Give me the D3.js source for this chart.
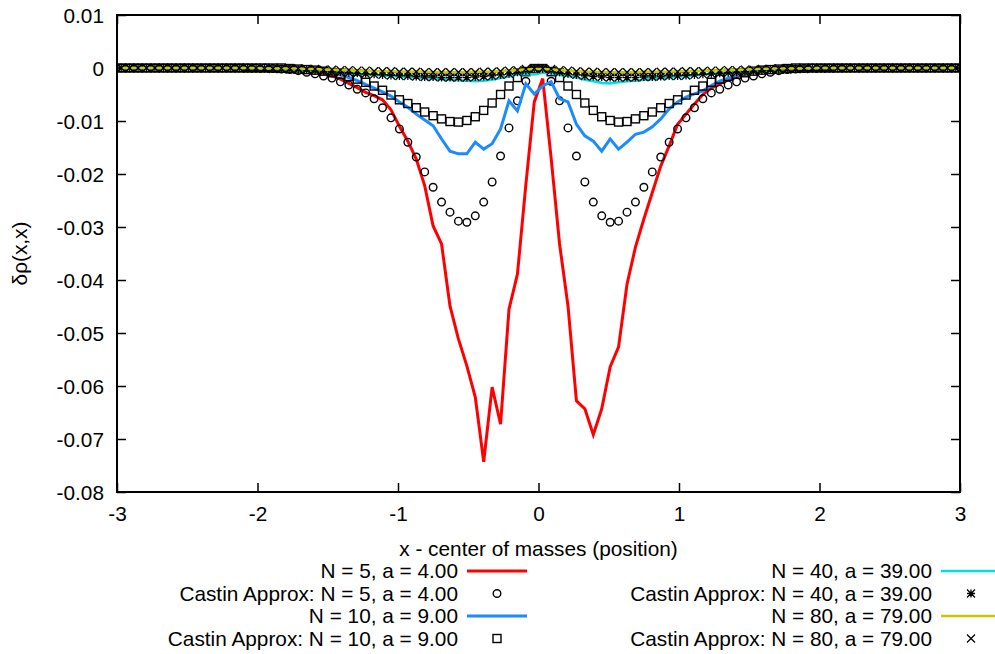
<!DOCTYPE html>
<html lang="en">
<head>
    <meta charset="UTF-8">
    <script src="https://d3js.org/d3.v7.min.js"></script>
    <title>delta rho</title>
    <style>
        body { margin: 0; background: #fff; }
        text { font-family: "Liberation Sans", Arial, sans-serif; font-size: 20.8px; fill: #000; }
    </style>
</head>
<body>
<div id="viz"></div>
<script>
    // sample grid: x = -2.97 ... 2.97, step 0.06 (100 points)
    const xStart = -2.97, xStep = 0.06, nPts = 100;

    // all values below are in units of 1e-4
    const UNIT = 1e-4;

    // N = 5, a = 4.00
    const n5 = [
        0, 0, 0, 0, 0, 0, 0, 0, 0, 0,
        0, 0, 0, 0, 0, 0, 0, 0, -1, -1,
        -2, -3, -4, -6, -10, -15, -21, -29, -37, -46,
        -52, -60, -79, -110, -138, -172, -222, -298, -332, -449,
        -511, -562, -621, -743, -602, -672, -455, -389, -220, -64,
        -20, -170, -332, -449, -628, -643, -692, -643, -564, -526,
        -408, -338, -285, -235, -185, -147, -106, -87, -68, -50,
        -38, -30, -22, -16, -12, -8, -5, -3, -2, -1,
        0, 0, 0, 0, 0, 0, 0, 0, 0, 0,
        0, 0, 0, 0, 0, 0, 0, 0, 0, 0
    ];
    const castin5 = [
        0, 0, 0, 0, 0, 0, 0, 0, 0, 0,
        0, 0, 0, 0, 0, 0, 0, 0, -1, -2,
        -3, -5, -8, -11, -15, -19, -26, -32, -40, -47,
        -58, -75, -94, -115, -140, -168, -196, -225, -253, -272,
        -289, -291, -279, -253, -215, -166, -113, -62, -25, -3,
        -3, -25, -62, -113, -166, -215, -253, -279, -291, -289,
        -272, -253, -225, -196, -168, -140, -115, -94, -75, -58,
        -47, -40, -32, -26, -19, -15, -11, -8, -5, -3,
        -2, -1, 0, 0, 0, 0, 0, 0, 0, 0,
        0, 0, 0, 0, 0, 0, 0, 0, 0, 0
    ];
    // N = 10, a = 9.00
    const n10 = [
        0, 0, 0, 0, 0, 0, 0, 0, 0, 0,
        0, 0, 0, 0, 0, 0, 0, 0, 0, 0,
        -1, -1, -2, -4, -6, -9, -13, -18, -24, -31,
        -38, -45, -53, -64, -74, -87, -98, -109, -134, -157,
        -162, -162, -140, -153, -143, -115, -62, -81, -30, -49,
        -34, -26, -58, -64, -106, -128, -138, -157, -134, -153,
        -140, -125, -121, -111, -96, -77, -64, -55, -49, -43,
        -33, -25, -19, -14, -10, -7, -5, -3, -2, -1,
        0, 0, 0, 0, 0, 0, 0, 0, 0, 0,
        0, 0, 0, 0, 0, 0, 0, 0, 0, 0
    ];
    const castin10 = [
        0, 0, 0, 0, 0, 0, 0, 0, 0, 0,
        0, 0, 0, 0, 0, 0, 0, 0, 0, 0,
        -1, -2, -3, -4, -6, -9, -12, -16, -21, -27,
        -34, -42, -51, -60, -67, -75, -83, -90, -96, -101,
        -102, -99, -92, -80, -66, -50, -34, -18, -7, -1,
        -1, -7, -18, -34, -50, -66, -80, -92, -99, -102,
        -101, -96, -90, -83, -75, -67, -60, -51, -42, -34,
        -27, -21, -16, -12, -9, -6, -4, -3, -2, -1,
        0, 0, 0, 0, 0, 0, 0, 0, 0, 0,
        0, 0, 0, 0, 0, 0, 0, 0, 0, 0
    ];
    // N = 40, a = 39.00
    const n40 = [
        0, 0, 0, 0, 0, 0, 0, 0, 0, 0,
        0, 0, 0, 0, 0, 0, -1, -1, -2, -2,
        -3, -4, -5, -6, -7, -8, -9, -10, -11, -12,
        -13, -14, -15, -16, -17, -18, -19, -20, -21, -22,
        -23, -24, -25, -24, -22, -19, -16, -12, -11, -12,
        -9, -10, -13, -15, -18, -22, -25, -28, -29, -27,
        -25, -24, -22, -21, -19, -18, -16, -15, -14, -12,
        -11, -10, -9, -8, -7, -6, -5, -4, -3, -2,
        -2, -1, -1, 0, 0, 0, 0, 0, 0, 0,
        0, 0, 0, 0, 0, 0, 0, 0, 0, 0
    ];
    const castin40 = [
        0, 0, 0, 0, 0, 0, 0, 0, 0, 0,
        0, 0, 0, 0, 0, -1, -1, -1, -2, -2,
        -3, -3, -4, -5, -6, -7, -8, -9, -10, -11,
        -12, -13, -14, -15, -15, -16, -17, -17, -18, -18,
        -18, -18, -17, -16, -15, -13, -11, -8, -5, -2,
        -2, -5, -8, -11, -13, -15, -16, -17, -18, -18,
        -18, -18, -17, -17, -16, -15, -15, -14, -13, -12,
        -11, -10, -9, -8, -7, -6, -5, -4, -3, -3,
        -2, -2, -1, -1, -1, 0, 0, 0, 0, 0,
        0, 0, 0, 0, 0, 0, 0, 0, 0, 0
    ];
    // N = 80, a = 79.00
    const n80 = [
        0, 0, 0, 0, 0, 0, 0, 0, 0, 0,
        0, 0, 0, 0, 0, 0, 0, -1, -1, -1,
        -1, -1, -2, -2, -3, -3, -4, -4, -5, -5,
        -6, -6, -6, -7, -7, -7, -7, -8, -8, -8,
        -8, -8, -7, -7, -7, -6, -5, -4, -3, -2,
        -2, -3, -4, -5, -6, -7, -7, -8, -8, -8,
        -8, -8, -7, -7, -7, -7, -6, -6, -6, -5,
        -5, -4, -4, -3, -3, -2, -2, -1, -1, -1,
        -1, -1, 0, 0, 0, 0, 0, 0, 0, 0,
        0, 0, 0, 0, 0, 0, 0, 0, 0, 0
    ];
    const castin80 = [
        0, 0, 0, 0, 0, 0, 0, 0, 0, 0,
        0, 0, 0, 0, 0, 0, 0, -1, -1, -1,
        -1, -1, -2, -2, -3, -3, -4, -4, -5, -5,
        -6, -6, -6, -7, -7, -7, -8, -8, -8, -8,
        -8, -8, -8, -7, -7, -6, -5, -4, -2, -1,
        -1, -2, -4, -5, -6, -7, -7, -8, -8, -8,
        -8, -8, -8, -8, -7, -7, -7, -6, -6, -6,
        -5, -5, -4, -4, -3, -3, -2, -2, -1, -1,
        -1, -1, -1, 0, 0, 0, 0, 0, 0, 0,
        0, 0, 0, 0, 0, 0, 0, 0, 0, 0
    ];

    const xTicks = [-3, -2, -1, 0, 1, 2, 3];
    const yTicks = [0.01, 0, -0.01, -0.02, -0.03, -0.04, -0.05, -0.06, -0.07, -0.08];

    // plotting order as in the source (gnuplot order)
    const series = [
        {label: "N = 5, a = 4.00", values: n5, kind: "line", color: "#ff0000", width: 3},
        {label: "Castin Approx: N = 5, a = 4.00", values: castin5, kind: "circle"},
        {label: "N = 10, a = 9.00", values: n10, kind: "line", color: "#1a8cff", width: 3},
        {label: "Castin Approx: N = 10, a = 9.00", values: castin10, kind: "square"},
        {label: "N = 40, a = 39.00", values: n40, kind: "line", color: "#00e0e8", width: 2.6},
        {label: "Castin Approx: N = 40, a = 39.00", values: castin40, kind: "star"},
        {label: "N = 80, a = 79.00", values: n80, kind: "line", color: "#c8c800", width: 2.6},
        {label: "Castin Approx: N = 80, a = 79.00", values: castin80, kind: "cross"}
    ];

    const W = 995, H = 654;
    const margin = {top: 15, right: 35, bottom: 162, left: 117};
    const width = W - margin.left - margin.right,
        height = H - margin.top - margin.bottom;

    const svg = d3.select("#viz")
        .append("svg")
        .attr("width", W)
        .attr("height", H);

    const g = svg.append("g")
        .attr("transform", `translate(${margin.left}, ${margin.top})`);

    const x = d3.scaleLinear().domain([-3, 3]).range([0, width]);
    const y = d3.scaleLinear().domain([-0.08, 0.01]).range([height, 0]);

    const fmtY = d => d === 0 ? "0" : d.toFixed(2);

    // axes, ticks pointing inward (mirrored on top and right)
    const gx = g.append("g")
        .attr("transform", `translate(0, ${height})`)
        .call(d3.axisBottom(x).tickValues(xTicks).tickSizeInner(-9).tickSizeOuter(0).tickPadding(14)
            .tickFormat(d => String(d)));
    const gy = g.append("g")
        .call(d3.axisLeft(y).tickValues(yTicks).tickSizeInner(-9).tickSizeOuter(0).tickPadding(13)
            .tickFormat(fmtY));
    const gt = g.append("g")
        .call(d3.axisTop(x).tickValues(xTicks).tickSizeInner(-9).tickSizeOuter(0).tickFormat(""));
    const gr = g.append("g")
        .attr("transform", `translate(${width}, 0)`)
        .call(d3.axisRight(y).tickValues(yTicks).tickSizeInner(-9).tickSizeOuter(0).tickFormat(""));

    [gx, gy, gt, gr].forEach(a => {
        a.select(".domain").remove();
        a.selectAll(".tick line").attr("stroke", "#000").attr("stroke-width", 1.5);
        a.selectAll(".tick text").attr("font-size", 20.8).attr("font-family", null).style("fill", "#000");
    });
    gy.selectAll(".tick text").attr("dy", "0.35em");

    const xs = d3.range(nPts).map(i => xStart + xStep * i);

    const line = d3.line()
        .x(d => x(d[0]))
        .y(d => y(d[1]));

    function drawMarker(sel, kind, cx, cy) {
        const s = 4;
        if (kind === "circle") {
            sel.append("circle").attr("cx", cx).attr("cy", cy).attr("r", 3.8)
                .attr("fill", "none").attr("stroke", "#000").attr("stroke-width", 1.4);
        } else if (kind === "square") {
            sel.append("rect").attr("x", cx - s).attr("y", cy - s).attr("width", 2 * s).attr("height", 2 * s)
                .attr("fill", "none").attr("stroke", "#000").attr("stroke-width", 1.4);
        } else if (kind === "cross") {
            sel.append("path")
                .attr("d", `M${cx - s},${cy - s}L${cx + s},${cy + s}M${cx - s},${cy + s}L${cx + s},${cy - s}`)
                .attr("stroke", "#000").attr("stroke-width", 1.3).attr("fill", "none");
        } else if (kind === "star") {
            sel.append("path")
                .attr("d", `M${cx - s},${cy - s}L${cx + s},${cy + s}M${cx - s},${cy + s}L${cx + s},${cy - s}` +
                    `M${cx - s},${cy}L${cx + s},${cy}M${cx},${cy - s}L${cx},${cy + s}`)
                .attr("stroke", "#000").attr("stroke-width", 1.3).attr("fill", "none");
        }
    }

    const plot = g.append("g");
    series.forEach(s => {
        const pts = xs.map((xv, i) => [xv, s.values[i] * UNIT]);
        if (s.kind === "line") {
            plot.append("path")
                .datum(pts)
                .attr("fill", "none")
                .attr("stroke", s.color)
                .attr("stroke-width", s.width)
                .attr("stroke-linejoin", "miter")
                .attr("d", line);
        } else {
            const mg = plot.append("g");
            pts.forEach(p => drawMarker(mg, s.kind, x(p[0]), y(p[1])));
        }
    });

    // border
    g.append("rect")
        .attr("width", width)
        .attr("height", height)
        .attr("fill", "none")
        .attr("stroke", "#000")
        .attr("stroke-width", 2);

    // axis titles
    svg.append("text")
        .attr("x", margin.left + x(0))
        .attr("y", 556)
        .attr("text-anchor", "middle")
        .text("x - center of masses (position)");

    svg.append("text")
        .attr("transform", `translate(27, ${margin.top + height / 2}) rotate(-90)`)
        .attr("text-anchor", "middle")
        .text("δρ(x,x)");

    // legend: two columns of four rows
    const legend = svg.append("g");
    const colText = [458, 932], colSample = [467, 941], rowY = [571, 593.5, 616, 638.5];
    series.forEach((s, i) => {
        const col = i < 4 ? 0 : 1, row = i % 4;
        const yy = rowY[row];
        legend.append("text")
            .attr("x", colText[col])
            .attr("y", yy)
            .attr("dy", "0.35em")
            .attr("text-anchor", "end")
            .text(s.label);
        if (s.kind === "line") {
            legend.append("line")
                .attr("x1", colSample[col]).attr("x2", colSample[col] + 60)
                .attr("y1", yy).attr("y2", yy)
                .attr("stroke", s.color).attr("stroke-width", s.width);
        } else {
            drawMarker(legend, s.kind, colSample[col] + 30, yy);
        }
    });
</script>
</body>
</html>
